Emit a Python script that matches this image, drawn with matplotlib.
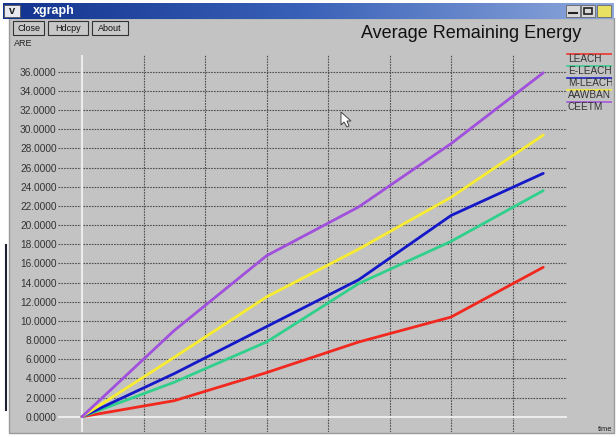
"""xgraph style plot: average remaining energy of five protocols"""
import numpy as np
import matplotlib
matplotlib.use("Agg")
import matplotlib.pyplot as plt
from matplotlib.patches import Rectangle, Polygon

plt.rcParams['font.family'] = ['Liberation Sans', 'DejaVu Sans']

# data
time = [0, 15, 30, 45, 60, 75]
leach = [0, 1.67, 4.6, 7.8, 10.4, 15.6]
e_leach = [0, 3.6, 7.8, 13.9, 18.3, 23.6]
m_leach = [0, 4.5, 9.4, 14.3, 21.0, 25.4]
aawban = [0, 6.2, 12.5, 17.5, 22.9, 29.4]
ceetm = [0, 9.0, 16.8, 21.9, 28.5, 35.9]

names = ["LEACH", "E-LEACH", "M-LEACH", "AAWBAN", "CEETM"]
series = [leach, e_leach, m_leach, aawban, ceetm]
colours = ["#f2281e", "#2fd08c", "#1418c8", "#f8ec30", "#a050dc"]
y_ticks = list(range(0, 37, 2))
x_grid = list(range(10, 71, 10))

W, H = 616, 437
fig = plt.figure(figsize=(W / 100, H / 100), dpi=100)
fig.patch.set_facecolor("white")


def px_axes(x0, y0, x1, y1, **kw):
    """axes given in pixel coords, y measured from the top"""
    return fig.add_axes([x0 / W, 1 - y1 / H, (x1 - x0) / W, (y1 - y0) / H], **kw)


# background / window chrome, drawn in pixel space
bg = px_axes(0, 0, W, H)
bg.set_xlim(0, W)
bg.set_ylim(H, 0)
bg.axis("off")
bg.add_patch(Rectangle((9, 18), 605, 415, fc="#c3c3c3", ec="#9a9a9a", lw=1))
bg.plot([6, 6], [245, 410], color="#1c2233", lw=1.5)

# title bar gradient
grad = np.linspace(0, 1, 256).reshape(1, -1)
bg.imshow(grad, extent=(3, 614, 19, 3), cmap=matplotlib.colors.LinearSegmentedColormap.from_list(
    "bar", ["#12338f", "#3a62b8", "#8ea8dc"]), aspect="auto", zorder=1)
bg.add_patch(Rectangle((4, 5), 16, 12, fc="#e8e8f0", ec="#555", lw=0.6, zorder=2))
bg.text(12, 11, "v", ha="center", va="center", fontsize=8, fontweight="bold", color="#222", zorder=3)
bg.text(33, 11, "xgraph", ha="left", va="center", fontsize=9, fontweight="bold", color="white", zorder=3)
for bx, fc in [(566, "#d8d8d8"), (581, "#d8d8d8"), (597, "#e8e060")]:
    bg.add_patch(Rectangle((bx, 5), 14, 12, fc=fc, ec="#666", lw=0.6, zorder=2))
bg.plot([569, 577], [13, 13], color="#222", lw=1.5, zorder=3)
bg.add_patch(Rectangle((584, 8), 8, 6, fc="none", ec="#222", lw=1.2, zorder=3))

# buttons
for bx, bw, label in [(13, 31, "Close"), (48, 40, "Hdcpy"), (92, 36, "About")]:
    bg.add_patch(Rectangle((bx, 21), bw, 14, fc="#c8c8c8", ec="#333", lw=0.8))
    bg.text(bx + bw / 2, 28.5, label, ha="center", va="center", fontsize=6.5, color="#111")

bg.text(14, 43, "ARE", ha="left", va="center", fontsize=6.5, color="#222")
bg.text(581, 33, "Average Remaining Energy", ha="right", va="center", fontsize=13, color="#111")
bg.text(612, 433, "time", ha="right", va="bottom", fontsize=5.5, color="#222")

# plot area
ax = px_axes(58, 55, 567, 432)
ax.set_facecolor("none")
x0, y0 = 82, 416.7
sx, sy = 61.5 / 10, 9.58
ax.set_xlim((58 - x0) / sx, (567 - x0) / sx)
ax.set_ylim((y0 - 432) / sy, (y0 - 55) / sy)
for s in ax.spines.values():
    s.set_visible(False)
ax.set_xticks([])
ax.set_yticks(y_ticks)
ax.set_yticklabels([f"{v:.4f}" for v in y_ticks], fontsize=7.3, color="#333")
ax.tick_params(axis="y", length=0, pad=1)

for v in y_ticks[1:]:
    ax.axhline(v, color="#505050", lw=0.8, ls=(0, (1.5, 1)), zorder=1)
for v in x_grid:
    ax.axvline(v, color="#505050", lw=0.8, ls=(0, (1.5, 1)), zorder=1)
ax.axhline(0, color="#ececec", lw=1.5, zorder=1)
ax.axvline(0, color="#ececec", lw=1.5, zorder=1)

for vals, c in zip(series, colours):
    ax.plot(time, vals, color=c, lw=2, solid_capstyle="round", zorder=3)

# legend, clipped at the window edge
lg = px_axes(566, 48, 612, 112)
lg.set_xlim(566, 612)
lg.set_ylim(112, 48)
lg.axis("off")
for i, (name, c) in enumerate(zip(names, colours)):
    ly = 53.5 + i * 12.2
    lg.plot([567, 612], [ly, ly], color=c, lw=1.1, clip_on=True)
    t = lg.text(568, ly + 8.2, name, ha="left", va="baseline", fontsize=7.2, color="#333")
    t.set_clip_on(True)

# mouse pointer
bg.add_patch(Polygon([(341, 112), (341, 125), (344, 122), (347, 127), (349, 126),
                      (347, 121), (351, 121)], closed=True, fc="white", ec="#444", lw=0.7, zorder=5))

fig.savefig("out.png", dpi=100, facecolor=fig.get_facecolor())
